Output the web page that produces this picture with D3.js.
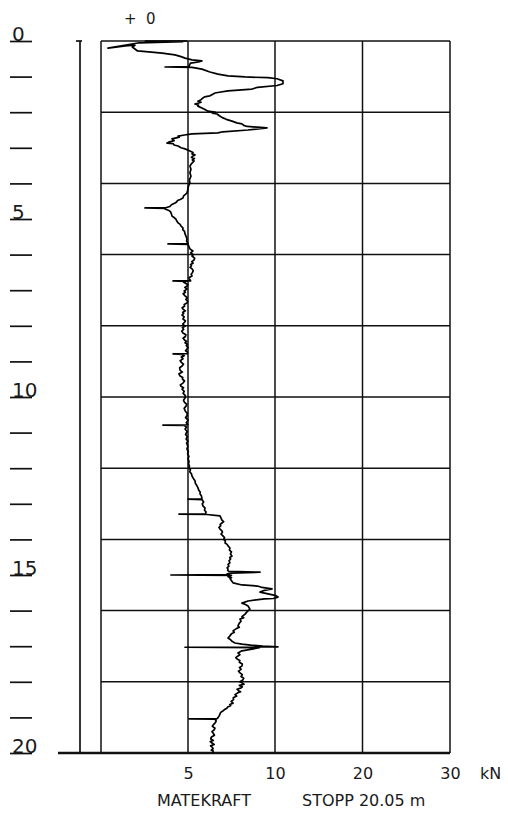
<!DOCTYPE html>
<html>
<head>
<meta charset="utf-8">
<script src="https://cdn.jsdelivr.net/npm/d3@7"></script>
<style>
  body { margin: 0; background: #fff; }
  svg text { font-family: "DejaVu Sans", sans-serif; fill: #1a1a1a; }
</style>
</head>
<body>
<div id="chart"></div>
<script>
var w = 508, h = 818;

// [depth m, feed force kN], top to bottom
var traceTop = [
  [0.00,4.95],[0.005,2.55],[0.02,4.70],[0.05,2.20],[0.20,0.40],[0.14,1.40],[0.12,1.95],[0.17,1.80],
  [0.28,2.10],[0.31,2.90],[0.34,3.51],[0.39,4.25],[0.44,4.60],[0.48,4.83],[0.53,5.23],[0.56,5.80],
  [0.59,5.60],[0.62,5.15],[0.65,5.11],[0.72,5.05],[0.73,3.68],[0.74,5.23],[0.79,5.80],[0.87,6.26],
  [0.93,6.72],[0.98,7.30],[1.01,8.28],[1.03,9.60],[1.06,10.23],[1.12,10.91],[1.20,10.91],[1.25,10.23],
  [1.30,9.00],[1.35,8.68],[1.40,7.30],[1.44,6.80],[1.46,6.55],[1.50,6.40],[1.54,6.26],[1.57,5.95],
  [1.60,5.86],[1.65,5.75],[1.69,5.57],[1.72,5.75],[1.74,5.62],[1.77,5.40],[1.80,5.60],[1.83,5.57],
  [1.88,5.80],[1.93,6.00],[1.97,6.15],[2.00,6.55],[2.03,6.40],[2.05,6.67],[2.10,6.80],[2.16,7.01],
  [2.20,7.20],[2.25,7.53],[2.30,7.80],[2.33,8.10],[2.37,8.20],[2.40,8.40],[2.44,9.54],[2.50,8.45],
  [2.55,7.00],[2.58,6.72],[2.61,5.23],[2.64,4.80],[2.67,4.43],[2.70,4.50],[2.75,4.08],[2.80,4.20],
  [2.84,3.90],[2.87,3.79],[2.88,4.14],[2.92,4.20],[2.95,4.43],[3.00,4.60],[3.03,4.83],[3.09,5.11],
  [3.13,5.29],[3.17,5.23],[3.20,5.40],[3.23,5.29],[3.27,5.20],[3.30,5.37],[3.34,5.25],[3.37,5.35],
  [3.43,5.23],[3.51,5.11],[3.60,5.17],[3.70,5.11],[3.80,5.17],[3.90,5.08],[3.99,5.11],[4.06,5.04],
  [4.13,5.00],[4.20,4.98],[4.27,4.94],[4.31,4.85],[4.35,4.75],[4.41,4.71],[4.45,4.55],[4.48,4.40],
  [4.52,4.35],[4.55,4.25],[4.60,4.05],[4.65,3.95],[4.69,3.68],[4.69,2.53],[4.70,3.68],[4.72,3.68],
  [4.76,3.90],[4.80,4.00],[4.86,4.05],[4.92,4.08],[4.96,4.20]
];
var traceMid = [
  [5.00,4.30],[5.05,4.35],[5.11,4.43],[5.15,4.55],[5.20,4.60],[5.25,4.71],[5.30,4.70],[5.35,4.80],
  [5.42,4.83],[5.50,4.90],[5.56,4.94],[5.62,4.92],[5.69,5.00],[5.70,3.85],[5.71,5.00],[5.78,5.06],
  [5.84,5.11],[5.90,5.28],[5.95,5.15],[6.00,5.30],[6.04,5.23],[6.10,5.38],[6.15,5.35],[6.20,5.22],
  [6.24,5.29],[6.28,5.15],[6.32,5.20],[6.36,5.12],[6.40,5.23],[6.45,5.30],[6.50,5.26],[6.55,5.18],
  [6.60,5.23],[6.65,5.05],[6.70,5.10],[6.74,5.15],[6.74,4.14],[6.75,4.90],[6.78,4.75],[6.80,4.83],
  [6.84,4.98],[6.88,4.95],[6.92,4.82],[6.97,4.94],[7.02,4.78],[7.06,4.85],[7.10,4.72],[7.16,4.83],
  [7.21,4.95],[7.26,4.88],[7.31,4.98],[7.36,4.94],[7.40,4.78],[7.45,4.80],[7.49,4.66],[7.53,4.71],
  [7.58,4.85],[7.62,4.70],[7.65,4.75],[7.70,4.66],[7.75,4.78],[7.81,4.71],[7.86,4.85],[7.90,4.80],
  [7.95,4.70],[8.01,4.83],[8.05,4.68],[8.10,4.75],[8.15,4.64],[8.20,4.71],[8.25,4.88],[8.30,4.85],
  [8.35,4.72],[8.40,4.80],[8.44,4.92],[8.48,4.83],[8.52,4.96],[8.56,4.90],[8.60,4.99],[8.65,4.94],
  [8.70,4.86],[8.74,4.98],[8.78,4.96],[8.79,4.14],[8.80,4.60],[8.84,4.78],[8.88,4.62],[8.93,4.71],
  [8.98,4.55],[9.03,4.62],[9.08,4.74],[9.13,4.66],[9.18,4.52],[9.25,4.55],[9.30,4.68],[9.35,4.48],
  [9.41,4.54],[9.45,4.70],[9.50,4.68],[9.55,4.80],[9.61,4.71],[9.66,4.56],[9.70,4.60],[9.74,4.74],
  [9.78,4.66],[9.84,4.78],[9.90,4.72],[9.96,4.85],[10.03,4.83],[10.09,4.74],[10.15,4.80],[10.20,4.92],
  [10.25,4.89],[10.32,4.78],[10.40,4.85],[10.46,4.96],[10.53,4.94],[10.58,4.86],[10.65,5.00],[10.72,4.90],
  [10.78,4.98],[10.79,3.56],[10.80,4.80],[10.85,4.92],[10.90,4.83],[10.97,4.95],[11.05,4.86],[11.11,4.96],
  [11.18,4.89],[11.24,4.99],[11.30,4.92],[11.38,4.99],[11.46,4.94],[11.53,5.02],[11.60,4.98],[11.67,5.05],
  [11.74,5.00],[11.81,5.06],[11.88,5.03],[11.94,5.08],[11.99,5.06],[12.05,5.14],[12.10,5.10],[12.16,5.20],
  [12.22,5.23],[12.28,5.30],[12.35,5.40],[12.42,5.42],[12.50,5.52],[12.56,5.58],[12.62,5.62],[12.67,5.70],
  [12.72,5.69],[12.79,5.78],[12.86,5.80]
];
var traceLow = [
  [12.87,5.00],[12.88,5.80],[12.95,5.90],[13.00,5.82],[13.06,5.86],[13.12,5.98],[13.18,5.95],[13.23,6.04],
  [13.28,6.00],[13.29,4.48],[13.30,6.09],[13.34,6.84],[13.40,6.90],[13.46,6.95],[13.50,7.05],[13.54,6.95],
  [13.58,6.85],[13.62,6.88],[13.66,6.78],[13.71,6.84],[13.76,6.95],[13.80,6.98],[13.85,6.90],[13.90,7.01],
  [13.95,7.10],[14.00,7.05],[14.05,7.15],[14.10,7.13],[14.14,7.25],[14.18,7.30],[14.24,7.41],[14.30,7.38],
  [14.35,7.50],[14.41,7.44],[14.47,7.53],[14.51,7.40],[14.55,7.45],[14.60,7.36],[14.66,7.41],[14.70,7.30],
  [14.75,7.35],[14.80,7.25],[14.83,7.30],[14.87,7.28],[14.90,7.35],[14.92,9.14],[14.95,7.45],[14.97,7.25],
  [14.99,7.40],[15.00,4.02],[15.01,7.50],[15.05,7.30],[15.08,7.50],[15.10,7.41],[15.16,7.50],[15.22,7.59],
  [15.28,8.10],[15.31,9.00],[15.35,9.25],[15.39,9.83],[15.43,9.40],[15.48,9.14],[15.53,9.60],[15.58,10.10],
  [15.62,10.34],[15.66,9.90],[15.67,9.40],[15.73,8.45],[15.79,8.10],[15.83,8.30],[15.87,8.45],[15.96,8.56],
  [16.03,8.40],[16.10,8.28],[16.17,8.10],[16.20,8.20],[16.24,7.99],[16.30,8.05],[16.35,7.95],[16.43,7.87],
  [16.47,7.95],[16.50,7.80],[16.57,7.59],[16.61,7.66],[16.65,7.50],[16.71,7.41],[16.77,7.30],[16.82,7.45],
  [16.87,7.55],[16.91,7.70],[16.94,8.10],[16.97,8.60],[17.00,9.30],[17.02,10.34],[17.03,4.83],[17.04,9.10],
  [17.08,8.68],[17.13,8.10],[17.19,7.87],[17.24,7.98],[17.28,7.85],[17.32,7.75],[17.36,7.82],[17.40,7.98],
  [17.45,7.95],[17.50,8.12],[17.56,8.10],[17.60,7.96],[17.65,8.05],[17.70,7.90],[17.75,7.99],[17.80,8.12],
  [17.85,8.05],[17.90,8.20],[17.95,8.15],[18.00,7.98],[18.03,8.10],[18.07,8.22],[18.10,7.95],[18.14,8.12],
  [18.17,8.05],[18.21,7.82],[18.25,7.90],[18.28,8.02],[18.31,7.87],[18.36,7.70],[18.40,7.80],[18.45,7.60],
  [18.50,7.62],[18.55,7.48],[18.60,7.59],[18.64,7.40],[18.67,7.45],[18.71,7.28],[18.74,7.24],[18.78,7.10],
  [18.82,7.00],[18.86,6.88],[18.90,6.84],[18.95,6.80],[18.99,6.75],[19.02,6.70],[19.04,6.65],[19.04,5.06],
  [19.05,6.55],[19.10,6.62],[19.16,6.55],[19.21,6.45],[19.25,6.40],[19.30,6.55],[19.35,6.50],[19.40,6.38],
  [19.44,6.44],[19.50,6.52],[19.55,6.35],[19.60,6.30],[19.65,6.45],[19.68,6.28],[19.72,6.38],[19.76,6.50],
  [19.80,6.30],[19.84,6.40],[19.88,6.44],[19.92,6.34],[19.94,6.44],[20.00,6.44]
];

var xTicks = [5, 10, 20, 30];
var depthTicks = d3.range(0, 21);
var depthLabels = [0, 5, 10, 15, 20];

var svg = d3.select("#chart")
    .append("svg")
    .attr("width", w)
    .attr("height", h);

svg.append("rect").attr("width", w).attr("height", h).attr("fill", "#fff");

// force scale: 0-10 kN uses double the width of 10-30 kN
var x = d3.scaleLinear()
    .domain([0, 10, 30])
    .range([101, 275, 450]);

var y = d3.scaleLinear()
    .domain([0, 20])
    .range([41, 753]);

// grid
var grid = svg.append("g").attr("stroke", "#111").attr("stroke-width", 1.5);
grid.selectAll(".hline")
    .data(d3.range(0, 21, 2))
    .enter()
    .append("line")
    .attr("x1", x(0)).attr("x2", x(30))
    .attr("y1", function(d) { return y(d); })
    .attr("y2", function(d) { return y(d); });
grid.selectAll(".vline")
    .data([0].concat(xTicks))
    .enter()
    .append("line")
    .attr("x1", function(d) { return x(d); })
    .attr("x2", function(d) { return x(d); })
    .attr("y1", y(0)).attr("y2", y(20));

// depth rule on the left
svg.append("line")
    .attr("x1", 80).attr("x2", 80)
    .attr("y1", y(0)).attr("y2", y(20))
    .attr("stroke", "#111").attr("stroke-width", 1.7);
svg.append("line")
    .attr("x1", 76).attr("x2", 82)
    .attr("y1", y(0)).attr("y2", y(0))
    .attr("stroke", "#111").attr("stroke-width", 1.7);

// bottom base line
svg.append("line")
    .attr("x1", 58).attr("x2", x(30))
    .attr("y1", y(20)).attr("y2", y(20))
    .attr("stroke", "#111").attr("stroke-width", 2.6);

var yAxis = d3.axisRight(y)
    .tickValues(depthTicks)
    .tickSize(22)
    .tickFormat(function(d) { return depthLabels.indexOf(d) >= 0 ? d : ""; });

function customYAxis(g) {
    g.call(yAxis);
    g.select(".domain").remove();
    g.selectAll(".tick line")
	.attr("stroke", "#111")
	.attr("stroke-width", 1.7);
    g.selectAll(".tick text")
	.attr("x", 2)
	.attr("y", 0)
	.attr("dy", -1)
	.attr("font-size", "20px")
	.style("text-anchor", "start")
	.attr("fill", "#1a1a1a");
}

svg.append("g")
    .attr("transform", "translate(10,0)")
    .attr("font-family", null)
    .call(customYAxis);

var xAxis = d3.axisBottom(x)
    .tickValues(xTicks)
    .tickSize(0)
    .tickFormat(d3.format("d"));

var xg = svg.append("g")
    .attr("transform", "translate(0," + y(20) + ")")
    .attr("font-family", null)
    .call(xAxis);
xg.select(".domain").remove();
xg.selectAll(".tick text")
    .attr("y", 26)
    .attr("dy", 0)
    .attr("font-size", "16px");

svg.append("text")
    .attr("x", 480).attr("y", y(20) + 26)
    .attr("font-size", "16px")
    .text("kN");

svg.append("text")
    .attr("x", 157).attr("y", 806)
    .attr("font-size", "16px")
    .text("MATEKRAFT");
svg.append("text")
    .attr("x", 302).attr("y", 806)
    .attr("font-size", "16px")
    .text("STOPP 20.05 m");

svg.append("text")
    .attr("x", 124).attr("y", 24)
    .attr("font-size", "15px")
    .style("white-space", "pre")
    .text("+  0");

// the force trace
var pts = traceTop.concat(traceMid, traceLow);
var line = d3.line()
    .x(function(r) { return x(r[1]); })
    .y(function(r) { return y(r[0]); });

svg.append("path")
    .datum(pts)
    .attr("d", line)
    .attr("fill", "none")
    .attr("stroke", "#000")
    .attr("stroke-width", 1.7)
    .attr("stroke-linejoin", "round");
</script>
</body>
</html>
